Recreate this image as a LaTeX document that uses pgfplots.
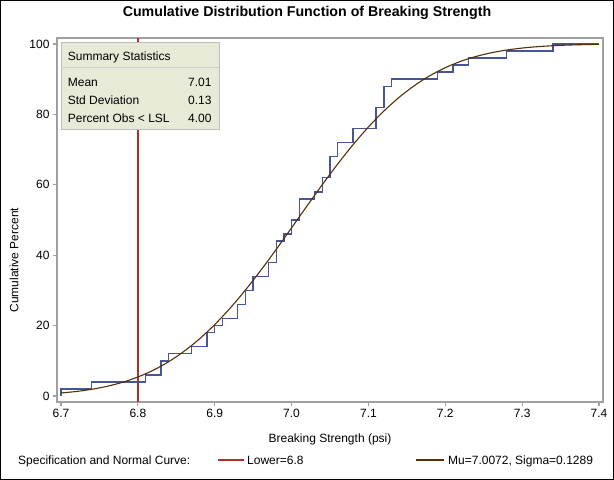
\documentclass[border=0pt]{standalone}
\usepackage{fontspec}
\setmainfont{Liberation Sans}
\usepackage{pgfplots}
\pgfplotsset{compat=1.18}
\definecolor{cdfblue}{RGB}{69,85,150}
\definecolor{specred}{RGB}{170,50,40}
\definecolor{normbrown}{RGB}{84,48,5}
\definecolor{boxfill}{RGB}{230,234,214}
\definecolor{framegray}{RGB}{160,160,160}
\begin{document}
\begin{tikzpicture}[font=\fontsize{12bp}{14bp}\selectfont]
\draw[black, line width=1bp] (0.5bp,0.5bp) rectangle (613.5bp,479.5bp);
\begin{axis}[
  at={(57bp,78bp)}, anchor=south west, scale only axis,
  width=546bp, height=364bp,
  xmin=6.6948, xmax=7.4052, ymin=-1.7, ymax=101.7,
  xtick={6.7,6.8,6.9,7.0,7.1,7.2,7.3,7.4},
  xticklabels={6.7,6.8,6.9,7.0,7.1,7.2,7.3,7.4},
  ytick={0,20,40,60,80,100},
  yticklabels={0,20,40,60,80,100},
  xtick pos=bottom, ytick pos=left,
  tick align=outside, major tick length=4bp,
  axis line style={draw=framegray, line width=1.2bp},
  tick style={draw=framegray, line width=1.2bp},
  tick label style={font=\fontsize{12bp}{14bp}\selectfont, text=black},
  /pgf/number format/assume math mode=true,
  clip=true,
]
\addplot[draw=specred, line width=1.4bp, no marks] coordinates {(6.8,-1.7) (6.8,101.7)};
\addplot[draw=cdfblue, line width=1.4bp, const plot, no marks] coordinates {
(6.70,0) (6.70,2) (6.74,4) (6.81,6) (6.83,10) (6.84,12) (6.87,14) (6.89,18)
(6.90,20) (6.91,22) (6.93,26) (6.94,30) (6.95,34) (6.97,38) (6.98,44) (6.99,46)
(7.00,50) (7.01,56) (7.03,58) (7.04,62) (7.05,68) (7.06,72) (7.08,76) (7.11,82)
(7.12,88) (7.13,90) (7.19,92) (7.21,94) (7.23,96) (7.28,98) (7.34,100) (7.40,100)};
\addplot[draw=normbrown, line width=1.1bp, smooth, no marks] coordinates {
(6.70,0.858) (6.72,1.293) (6.74,1.909) (6.76,2.757) (6.78,3.898) (6.80,5.399)
(6.82,7.321) (6.84,9.730) (6.86,12.673) (6.88,16.187) (6.90,20.282) (6.92,24.936)
(6.94,30.108) (6.96,35.711) (6.98,41.644) (7.00,47.771) (7.02,53.955) (7.04,60.044)
(7.06,65.896) (7.08,71.389) (7.10,76.421) (7.12,80.924) (7.14,84.856) (7.16,88.207)
(7.18,90.997) (7.20,93.263) (7.22,95.062) (7.24,96.455) (7.26,97.507) (7.28,98.284)
(7.30,98.844) (7.32,99.238) (7.34,99.509) (7.36,99.690) (7.38,99.809) (7.40,99.885)};
\end{axis}
\begin{scope}[x=1bp,y=1bp]
% summary box
\draw[fill=boxfill, draw=framegray!70, line width=1bp] (61,350.7) rectangle (219,437.7);
\draw[draw=framegray!50, line width=1bp] (61,412.7) -- (219,412.7);
\node[anchor=base west, inner sep=0] at (67.7,419.4) {Summary Statistics};
\node[anchor=base west, inner sep=0] at (67.7,393.9) {Mean};
\node[anchor=base west, inner sep=0] at (67.7,375.2) {Std Deviation};
\node[anchor=base west, inner sep=0] at (67.7,357.4) {Percent Obs < LSL};
\node[anchor=base east, inner sep=0] at (211.7,393.9) {7.01};
\node[anchor=base east, inner sep=0] at (211.7,375.2) {0.13};
\node[anchor=base east, inner sep=0] at (211.7,357.4) {4.00};
% titles
\node[anchor=base, inner sep=0, font=\fontsize{14.2bp}{16bp}\selectfont\bfseries] at (307,463) {Cumulative Distribution Function of Breaking Strength};
\node[anchor=base, inner sep=0] at (330,38) {Breaking Strength (psi)};
\node[anchor=base, inner sep=0, rotate=90] at (18.3,220) {Cumulative Percent};
% legend
\node[anchor=base west, inner sep=0] at (18,16) {Specification and Normal Curve:};
\draw[draw=specred, line width=1.4bp] (218,20) -- (244,20);
\node[anchor=base west, inner sep=0] at (247,16) {Lower=6.8};
\draw[draw=normbrown, line width=1.4bp] (416,20) -- (444,20);
\node[anchor=base west, inner sep=0] at (448,16) {Mu=7.0072, Sigma=0.1289};
\end{scope}
\end{tikzpicture}
\end{document}
